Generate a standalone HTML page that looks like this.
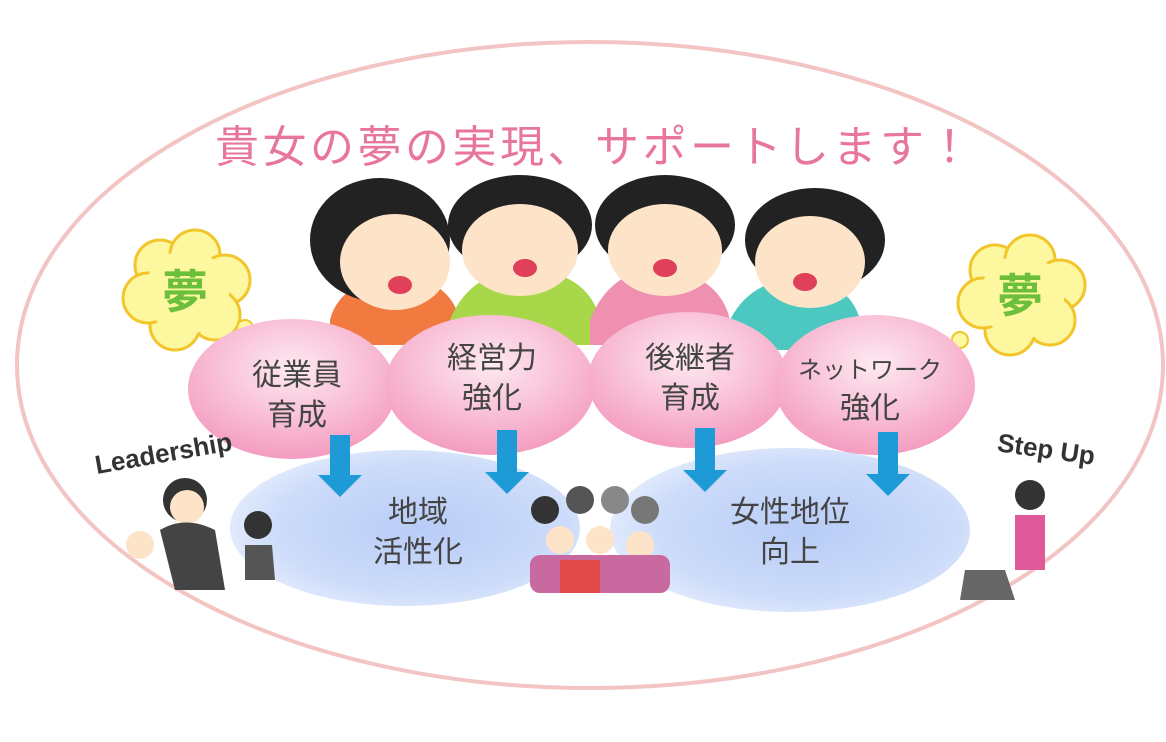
<!DOCTYPE html>
<html><head><meta charset="utf-8"><style>
html,body{margin:0;padding:0;background:#fff}
svg{display:block}
text{font-family:"Liberation Sans","Noto Sans CJK JP",sans-serif}
</style></head><body>
<svg width="1166" height="742" viewBox="0 0 1166 742" xmlns="http://www.w3.org/2000/svg">
<defs>
<radialGradient id="pk" cx="50%" cy="35%" r="65%"><stop offset="0" stop-color="#fdeaf2"/><stop offset="0.6" stop-color="#f8bcd4"/><stop offset="1" stop-color="#f49cc0"/></radialGradient>
<radialGradient id="bl" cx="55%" cy="50%" r="60%"><stop offset="0" stop-color="#b8ccf6"/><stop offset="0.7" stop-color="#cddcfa"/><stop offset="1" stop-color="#e8effd"/></radialGradient>
</defs>
<ellipse cx="590" cy="365" rx="573" ry="323" fill="none" stroke="#f3c4c4" stroke-width="4"/>
<text x="595" y="162" text-anchor="middle" font-size="44" fill="#e8769c" letter-spacing="3.5">貴女の夢の実現、サポートします！</text>

<g>
<path d="M330 320 Q340 280 400 275 Q450 280 460 320 L460 345 L330 345Z" fill="#f07a40"/>
<path d="M450 320 Q470 270 530 268 Q590 275 600 320 L600 345 L450 345Z" fill="#a8d84a"/>
<path d="M590 320 Q610 270 660 268 Q720 275 730 320 L730 345 L590 345Z" fill="#f090b0"/>
<path d="M730 320 Q750 280 800 278 Q850 282 860 320 L860 350 L730 350Z" fill="#4cc8c0"/>
<ellipse cx="380" cy="240" rx="70" ry="62" fill="#222"/>
<ellipse cx="395" cy="262" rx="55" ry="48" fill="#fde3c8"/>
<ellipse cx="520" cy="225" rx="72" ry="50" fill="#222"/>
<ellipse cx="520" cy="250" rx="58" ry="46" fill="#fde3c8"/>
<ellipse cx="665" cy="225" rx="70" ry="50" fill="#222"/>
<ellipse cx="665" cy="250" rx="57" ry="46" fill="#fde3c8"/>
<ellipse cx="815" cy="240" rx="70" ry="52" fill="#222"/>
<ellipse cx="810" cy="262" rx="55" ry="46" fill="#fde3c8"/>
<ellipse cx="400" cy="285" rx="12" ry="9" fill="#e0405a"/>
<ellipse cx="525" cy="268" rx="12" ry="9" fill="#e0405a"/>
<ellipse cx="665" cy="268" rx="12" ry="9" fill="#e0405a"/>
<ellipse cx="805" cy="282" rx="12" ry="9" fill="#e0405a"/>
</g>

<g fill="#fdf7a0" stroke="#f2c52a" stroke-width="3">
<g id="cl">
<circle cx="160" cy="265" r="25"/><circle cx="195" cy="255" r="25"/><circle cx="225" cy="280" r="25"/>
<circle cx="215" cy="315" r="25"/><circle cx="175" cy="325" r="25"/><circle cx="148" cy="298" r="25"/>
</g>
<use href="#cl" transform="translate(835 5)"/>
</g>
<circle cx="187" cy="292" r="42" fill="#fdf7a0"/>
<circle cx="1022" cy="297" r="42" fill="#fdf7a0"/>
<circle cx="245" cy="328" r="8" fill="#fdf7a0" stroke="#f2c52a" stroke-width="2"/>
<circle cx="258" cy="342" r="5" fill="#fdf7a0" stroke="#f2c52a" stroke-width="2"/>
<circle cx="960" cy="340" r="8" fill="#fdf7a0" stroke="#f2c52a" stroke-width="2"/>
<circle cx="948" cy="352" r="5" fill="#fdf7a0" stroke="#f2c52a" stroke-width="2"/>
<text x="185" y="308" text-anchor="middle" font-size="46" fill="#6cbf3a" font-weight="bold">夢</text>
<text x="1020" y="312" text-anchor="middle" font-size="46" fill="#6cbf3a" font-weight="bold">夢</text>

<ellipse cx="405" cy="528" rx="175" ry="78" fill="url(#bl)"/>
<ellipse cx="790" cy="530" rx="180" ry="82" fill="url(#bl)"/>

<ellipse cx="292" cy="389" rx="104" ry="70" fill="url(#pk)"/>
<ellipse cx="490" cy="385" rx="105" ry="70" fill="url(#pk)"/>
<ellipse cx="688" cy="380" rx="100" ry="68" fill="url(#pk)"/>
<ellipse cx="875" cy="385" rx="100" ry="70" fill="url(#pk)"/>

<g font-size="30" fill="#444" text-anchor="middle">
<text x="297" y="385">従業員</text><text x="297" y="425">育成</text>
<text x="492" y="368">経営力</text><text x="492" y="408">強化</text>
<text x="690" y="368">後継者</text><text x="690" y="408">育成</text>
<text x="870" y="378" font-size="24">ネットワーク</text><text x="870" y="418">強化</text>
<text x="418" y="522">地域</text><text x="418" y="562">活性化</text>
<text x="790" y="522">女性地位</text><text x="790" y="562">向上</text>
</g>

<g fill="#1e9ad6">
<path d="M330 435 L350 435 L350 475 L362 475 L340 497 L318 475 L330 475Z"/>
<path d="M497 430 L517 430 L517 472 L529 472 L507 494 L485 472 L497 472Z"/>
<path d="M695 428 L715 428 L715 470 L727 470 L705 492 L683 470 L695 470Z"/>
<path d="M878 432 L898 432 L898 474 L910 474 L888 496 L866 474 L878 474Z"/>
</g>

<text x="165" y="462" font-size="26" fill="#333" font-weight="bold" transform="rotate(-10 165 462)" text-anchor="middle">Leadership</text>
<text x="1045" y="458" font-size="26" fill="#333" font-weight="bold" transform="rotate(8 1045 458)" text-anchor="middle">Step Up</text>

<circle cx="185" cy="500" r="22" fill="#333"/><circle cx="187" cy="507" r="17" fill="#fde3c8"/>
<path d="M160 530 Q185 515 215 530 L225 590 L175 590Z" fill="#444"/>
<circle cx="258" cy="525" r="14" fill="#333"/><path d="M245 545 L272 545 L275 580 L245 580Z" fill="#555"/>
<circle cx="140" cy="545" r="14" fill="#fde3c8"/>
<g>
<circle cx="545" cy="510" r="14" fill="#333"/><circle cx="580" cy="500" r="14" fill="#555"/><circle cx="615" cy="500" r="14" fill="#888"/><circle cx="645" cy="510" r="14" fill="#777"/>
<circle cx="560" cy="540" r="14" fill="#fde3c8"/><circle cx="600" cy="540" r="14" fill="#fde3c8"/><circle cx="640" cy="545" r="14" fill="#fde3c8"/>
<rect x="530" y="555" width="140" height="38" rx="10" fill="#c86aa0"/>
<rect x="560" y="560" width="40" height="33" fill="#e04a4a"/>
</g>
<circle cx="1030" cy="495" r="15" fill="#333"/>
<path d="M1015 515 L1045 515 L1045 570 L1015 570Z" fill="#e05a9a"/>
<path d="M965 570 L1005 570 L1015 600 L960 600Z" fill="#666"/>
</svg>
</body></html>
